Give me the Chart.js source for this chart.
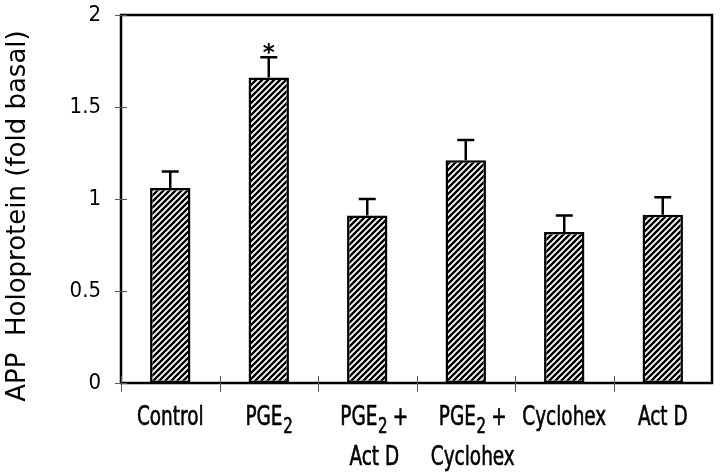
<!DOCTYPE html>
<html>
<head>
<meta charset="utf-8">
<script src="https://cdn.jsdelivr.net/npm/chart.js@4"></script>
<style>
  html, body { margin: 0; padding: 0; background: #fff; }
  #wrap { width: 720px; height: 474px; }
</style>
</head>
<body>
<div id="wrap"><canvas id="chart"></canvas></div>
<script>
/* ================= DATA ================= */
const categories = [["Control"], ["PGE₂"], ["PGE₂ +", "Act D"], ["PGE₂ +", "Cyclohex"], ["Cyclohex"], ["Act D"]];
const means = [1.06, 1.66, 0.91, 1.21, 0.82, 0.915];
const errors = [0.09, 0.11, 0.09, 0.11, 0.09, 0.095];
const marks = ["", "*", "", "", "", ""];
const yTicks = [0, 0.5, 1, 1.5, 2];
const yTickLabels = ["0", "0.5", "1", "1.5", "2"];
const yTitle = "APP  Holoprotein (fold basal)";

const NARROW = "'Liberation Sans Narrow', 'DejaVu Sans Condensed', sans-serif";

/* ================= HATCH ================= */
const makeHatch = () => {
  const c = document.createElement("canvas");
  c.width = 6; c.height = 6;
  const g = c.getContext("2d");
  g.fillStyle = "#fff";
  g.fillRect(0, 0, 6, 6);
  g.strokeStyle = "#000";
  g.lineWidth = 2.4;
  g.beginPath();
  g.moveTo(-1, 7); g.lineTo(7, -1);
  g.moveTo(-4, 4); g.lineTo(4, -4);
  g.moveTo(2, 10); g.lineTo(10, 2);
  g.stroke();
  return g.createPattern(c, "repeat");
};

/* draw one label line, "₂" rendered as a lowered, smaller 2 */
const drawLine = (ctx, text, cx, baseline, size) => {
  const sx = 0.76;
  const parts = text.split("₂");
  const mainFont = `${size}px ${NARROW}`;
  const subFont = `${Math.round(size * 0.82)}px ${NARROW}`;
  let w = 0;
  parts.forEach((p, k) => {
    ctx.font = mainFont;
    w += ctx.measureText(p).width;
    if (k < parts.length - 1) { ctx.font = subFont; w += ctx.measureText("2").width; }
  });
  ctx.save();
  ctx.translate(cx, baseline);
  ctx.scale(sx, 1);
  ctx.strokeStyle = "#000";
  ctx.lineWidth = 0.6;
  let x0 = -w / 2;
  ctx.textAlign = "left";
  ctx.textBaseline = "alphabetic";
  parts.forEach((p, k) => {
    ctx.font = mainFont;
    ctx.fillText(p, x0, 0);
    ctx.strokeText(p, x0, 0);
    x0 += ctx.measureText(p).width;
    if (k < parts.length - 1) {
      ctx.font = subFont;
      ctx.fillText("2", x0 + 1, 8);
      ctx.strokeText("2", x0 + 1, 8);
      x0 += ctx.measureText("2").width;
    }
  });
  ctx.restore();
};

/* ================= DECOR ================= */
const decor = {
  id: "decor",
  afterDatasetsDraw(chart) {
    const { ctx, chartArea: a, scales: { x, y } } = chart;
    ctx.save();

    // error bars (upper only) and significance marks
    const meta = chart.getDatasetMeta(0);
    ctx.strokeStyle = "#000";
    ctx.fillStyle = "#000";
    ctx.lineWidth = 2.5;
    means.forEach((m, i) => {
      const px = meta.data[i].x;
      const top = y.getPixelForValue(m);
      const cap = y.getPixelForValue(m + errors[i]);
      ctx.beginPath();
      ctx.moveTo(px, top);
      ctx.lineTo(px, cap);
      ctx.moveTo(px - 8.5, cap);
      ctx.lineTo(px + 8.5, cap);
      ctx.stroke();
      if (marks[i]) {
        ctx.font = "bold 23px 'DejaVu Sans'";
        ctx.textAlign = "center";
        ctx.textBaseline = "alphabetic";
        const mt = ctx.measureText(marks[i]);
        const center = cap - 9;
        const base = center + (mt.actualBoundingBoxAscent - mt.actualBoundingBoxDescent) / 2;
        ctx.fillText(marks[i], px, base);
      }
    });

    // frame
    ctx.lineWidth = 2.5;
    ctx.strokeRect(a.left, a.top, a.right - a.left, a.bottom - a.top);

    // crossing ticks
    ctx.strokeStyle = "#555";
    ctx.lineWidth = 1;
    ctx.beginPath();
    yTicks.forEach(v => {
      const py = Math.round(y.getPixelForValue(v)) + 0.5;
      ctx.moveTo(a.left - 6, py);
      ctx.lineTo(a.left + 6, py);
    });
    const step = (a.right - a.left) / categories.length;
    for (let i = 0; i < categories.length; i++) {
      const px = Math.round(a.left + i * step) + 0.5;
      ctx.moveTo(px, a.bottom - 7);
      ctx.lineTo(px, a.bottom + 9);
    }
    ctx.stroke();

    // category labels
    ctx.fillStyle = "#000";
    categories.forEach((lines, i) => {
      const cx = x.getPixelForValue(i) + (lines.length > 1 ? 7 : 0);
      lines.forEach((ln, k) => drawLine(ctx, ln, cx, a.bottom + 42 + k * 40, 27));
    });

    // y axis title
    ctx.save();
    ctx.translate(25, (a.top + a.bottom) / 2 + 17);
    ctx.rotate(-Math.PI / 2);
    ctx.font = "26px 'DejaVu Sans'";
    ctx.textAlign = "center";
    ctx.textBaseline = "alphabetic";
    ctx.fillText(yTitle, 0, 0);
    ctx.restore();

    ctx.restore();
  }
};

/* ================= CHART ================= */
new Chart(document.getElementById("chart"), {
  type: "bar",
  data: {
    labels: categories,
    datasets: [{
      data: means,
      backgroundColor: makeHatch(),
      borderColor: "#000",
      borderWidth: 2.5,
      borderSkipped: false,
      barPercentage: 0.41,
      categoryPercentage: 1
    }]
  },
  options: {
    responsive: true,
    maintainAspectRatio: false,
    animation: false,
    layout: { padding: { top: 15, right: 8, left: 0, bottom: 0 } },
    plugins: { legend: { display: false }, tooltip: { enabled: false } },
    scales: {
      x: {
        grid: { display: false },
        border: { display: false },
        ticks: { display: false },
        afterFit: s => { s.height = 91; s.paddingLeft = 0; s.paddingRight = 0; }
      },
      y: {
        min: 0,
        max: 2,
        grid: { display: false },
        border: { display: false },
        afterBuildTicks: s => { s.ticks = yTicks.map(v => ({ value: v })); },
        ticks: {
          color: "#000",
          padding: 12,
          callback: (v) => yTickLabels[yTicks.indexOf(v)],
          font: { family: NARROW, size: 22 }
        },
        afterFit: s => { s.width = 121; s.paddingTop = 0; s.paddingBottom = 0; }
      }
    }
  },
  plugins: [decor]
});
</script>
</body>
</html>
